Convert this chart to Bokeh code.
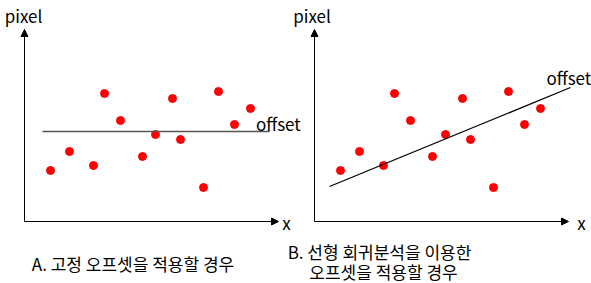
from bokeh.plotting import figure
from bokeh.models import Range1d, Arrow, NormalHead, Label
from bokeh.embed import file_html
from bokeh.resources import INLINE

# ---- data (arbitrary units) ----
x_vals = [2.6, 4.5, 6.9, 8.0, 9.6, 11.8, 13.1, 14.8, 15.6, 17.9, 19.4, 21.0, 22.6]
pixel_vals = [5.1, 7.0, 5.6, 12.8, 10.1, 6.5, 8.7, 12.3, 8.2, 3.4, 13.0, 9.7, 11.3]
fixed_offset = 9.0
fixed_line_x = [1.8, 24.5]
reg_line_x = [1.5, 25.6]
reg_line_y = [3.5, 13.4]
x_axis_len = 25.4
y_axis_len = 19.2
caption_a = "A. 고정 오프셋을 적용할 경우"
caption_b1 = "B. 선형 회귀분석을 이용한"
caption_b2 = "오프셋을 적용할 경우"

FONT = "Noto Sans CJK KR"

p = figure(width=591, height=283, output_backend="svg", toolbar_location=None,
           x_range=Range1d(-2.4, 56.7), y_range=Range1d(-6.2, 22.1),
           min_border=0, x_axis_type=None, y_axis_type=None)
p.extra_x_ranges = {"B": Range1d(-31.4, 27.7)}
p.grid.visible = False
p.outline_line_color = None
p.background_fill_color = "white"
p.border_fill_color = "white"

for rn in ["default", "B"]:
    # axes with arrow heads
    p.add_layout(Arrow(end=NormalHead(size=7, fill_color="black", line_color="black", line_width=1),
                       x_start=0, y_start=0, x_end=0, y_end=y_axis_len,
                       line_color="black", line_width=1, x_range_name=rn))
    p.add_layout(Arrow(end=NormalHead(size=7, fill_color="black", line_color="black", line_width=1),
                       x_start=0, y_start=0, x_end=x_axis_len, y_end=0,
                       line_color="black", line_width=1, x_range_name=rn))
    p.scatter(x_vals, pixel_vals, size=8, color="#ff0000", x_range_name=rn)

# Panel A: fixed offset
p.line(fixed_line_x, [fixed_offset, fixed_offset], line_color="#555555", line_width=1.6)
# Panel B: regression line
p.line(reg_line_x, reg_line_y, line_color="#000000", line_width=1.3, x_range_name="B")

def lab(x, y, t, rn="default", align="center", base="middle", size="17px"):
    p.add_layout(Label(x=x, y=y, text=t, x_range_name=rn, text_align=align,
                       text_baseline=base, text_font=FONT,
                       text_font_size=size, text_color="#000000"))

lab(-0.1, 20.6, "pixel")
lab(-0.25, 20.6, "pixel", rn="B")
lab(26.2, -0.1, "x")
lab(26.7, -0.1, "x", rn="B")
lab(23.15, 9.8, "offset", align="left")
lab(23.2, 14.4, "offset", rn="B", align="left")
lab(10.85, -4.2, caption_a)
lab(6.5, -3.0, caption_b1, rn="B")
lab(6.9, -5.0, caption_b2, rn="B")

open("out.html", "w").write(file_html(p, INLINE))
